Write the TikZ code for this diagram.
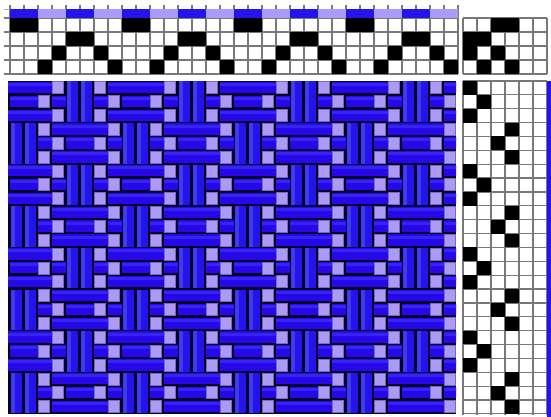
\documentclass[tikz,border=0pt]{standalone}
\usepackage{tikz}
\definecolor{warpdark}{RGB}{36,20,235}
\definecolor{warphigh}{RGB}{60,60,238}
\definecolor{weftdark}{RGB}{38,8,232}
\definecolor{wefthigh}{RGB}{52,36,246}
\definecolor{warplight}{RGB}{172,154,248}
\definecolor{gridgray}{RGB}{120,120,120}
\definecolor{clothback}{RGB}{6,0,40}

\begin{document}
\begin{tikzpicture}[x=1pt, y=-1pt,
    gridline/.style={gridgray, line width=1.2pt},
    cellblack/.style={fill=black},
    weftfloat/.style={fill=weftdark},
    warpfloat/.style={fill=warpdark},
    lightcell/.style={fill=warplight, draw=warplight!70!black, line width=0.3pt}]
    \useasboundingbox (0,0) rectangle (551,417);
    % Threading
    \foreach \c in {0,...,32}
        \draw[gridline] (10+14*\c,5) -- (10+14*\c,74);
    \foreach \r in {0,...,4}
        \draw[gridline] (4,18+14*\r) -- (458,18+14*\r);
    \draw[gridgray!60, line width=0.6pt] (4,9) -- (458,9);
    \foreach \c in {0,2,...,14}
        \fill[warpdark] (10+28*\c,9) rectangle (38+28*\c,18);
    \foreach \c in {1,3,...,15}
        \fill[warplight] (10+28*\c,9) rectangle (38+28*\c,18);
    \foreach \k in {0,...,3} {
        \foreach \r/\c in {0/0,0/1,1/4,1/5,2/3,2/6,3/2,3/7}
            \fill[cellblack] (10+14*\c+112*\k,18+14*\r) rectangle (24+14*\c+112*\k,32+14*\r);
    }
    % Tie-up
    \foreach \c in {0,...,6}
        \draw[gridline] (463+14*\c,18) -- (463+14*\c,74);
    \foreach \r in {0,...,4}
        \draw[gridline] (463,18+14*\r) -- (547,18+14*\r);
    \foreach \r/\c in {0/2,0/3,1/0,1/1,2/0,2/2,3/1,3/3}
        \fill[cellblack] (463+14*\c,18+14*\r) rectangle (477+14*\c,32+14*\r);
    % Treadling
    \foreach \c in {0,...,6}
        \draw[gridline] (463+14*\c,81) -- (463+14*\c,415);
    \foreach \r in {0,...,24}
        \draw[gridline] (463,81+13.87*\r) -- (547,81+13.87*\r);
    \foreach \k in {0,...,3} {
        \foreach \r/\c in {0/0,1/1,2/0,3/3,4/2,5/3}
            \fill[cellblack] (463+14*\c,81+83.2*\k+13.87*\r) rectangle (477+14*\c,94.87+83.2*\k+13.87*\r);
    }
    % Weft strip
    \fill[warpdark] (547,81) rectangle (551,417);
    % Drawdown
    \begin{scope}
        \clip (8,81) rectangle (456,414);
        \fill[clothback] (8,81) rectangle (456,414);
        \foreach \k in {0,...,4} {
            \foreach \j in {0,...,3} {
                % dark warp
                \foreach \r/\c in {0/4,0/5,3/0,3/1} {
                    \fill[warpfloat] (11+14*\c+112*\k,81.5+83.2*\j+13.87*\r) rectangle (21.5+14*\c+112*\k,122+83.2*\j+13.87*\r);
                    \fill[warphigh] (11+14*\c+112*\k,81.5+83.2*\j+13.87*\r) rectangle (15+14*\c+112*\k,122+83.2*\j+13.87*\r);
                }
                % weft
                \foreach \r/\a/\b in {0/-1/2,1/0/1,1/3/3,1/6/6,2/-1/2,3/3/6,4/2/2,4/4/5,4/7/7,5/3/6} {
                    \fill[weftfloat] (9.5+14*\a+112*\k,81.8+83.2*\j+13.87*\r) rectangle (23.5+14*\b+112*\k,93.2+83.2*\j+13.87*\r);
                    \fill[wefthigh] (9.5+14*\a+112*\k,83+83.2*\j+13.87*\r) rectangle (23.5+14*\b+112*\k,86+83.2*\j+13.87*\r);
                }
                % light warp
                \foreach \r/\c in {1/2,3/2,5/2,0/3,2/3,4/3,0/6,2/6,4/6,1/7,3/7,5/7}
                    \filldraw[lightcell] (10.5+14*\c+112*\k,81.5+83.2*\j+13.87*\r) rectangle (21.5+14*\c+112*\k,93.5+83.2*\j+13.87*\r);
            }
        }
    \end{scope}
\end{tikzpicture}
\end{document}
